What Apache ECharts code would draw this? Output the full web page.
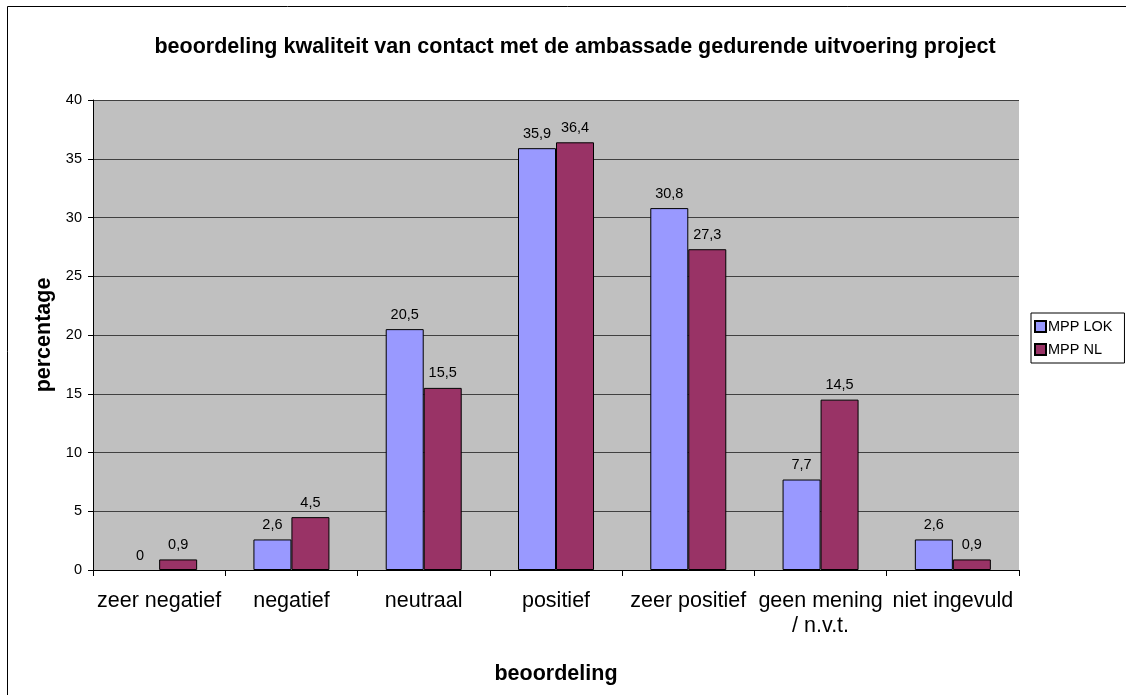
<!DOCTYPE html>
<html>
<head>
<meta charset="utf-8">
<script src="https://cdn.jsdelivr.net/npm/echarts@6/dist/echarts.min.js"></script>
<style>
  html, body { margin: 0; padding: 0; background: #fff; }
  #chart { width: 1126px; height: 695px; }
</style>
</head>
<body>
<div id="chart"></div>
<script>
// Ratings of contact with the embassy during project execution (percentages)
const categories = ['zeer negatief', 'negatief', 'neutraal', 'positief', 'zeer positief', 'geen mening\n/ n.v.t.', 'niet ingevuld'];
const mppLok = [0, 2.6, 20.5, 35.9, 30.8, 7.7, 2.6];
const mppNl = [0.9, 4.5, 15.5, 36.4, 27.3, 14.5, 0.9];
const yTicks = { min: 0, max: 40, interval: 5 };

const FONT = '"Liberation Sans", Arial, sans-serif';
const fmtComma = p => String(p.value).replace('.', ',');

// zero-height bars get no outline so only their label remains
const withZeroStyle = arr => arr.map(v => v === 0 ? { value: v, itemStyle: { borderWidth: 0 } } : v);

const labelStyle = {
  show: true,
  position: 'top',
  distance: 7,
  color: '#000',
  fontFamily: FONT,
  fontSize: 14.5,
  formatter: fmtComma
};

const chart = echarts.init(document.getElementById('chart'), null, { renderer: 'canvas' });
chart.setOption({
  animation: false,
  backgroundColor: '#fff',
  textStyle: { fontFamily: FONT },
  title: {
    text: 'beoordeling kwaliteit van contact met de ambassade gedurende uitvoering project',
    left: 570,
    textAlign: 'center',
    top: 31,
    textStyle: { fontFamily: FONT, fontSize: 21.5, fontWeight: 'bold', color: '#000' }
  },
  graphic: [{
    type: 'rect',
    shape: { x: 7.5, y: 6.5, width: 1300, height: 900 },
    style: { fill: 'none', stroke: '#000', lineWidth: 1 },
    silent: true,
    z: 100
  }],
  legend: {
    orient: 'vertical',
    left: 1031,
    top: 313,
    padding: [6, 12, 6, 3],
    itemGap: 8,
    itemWidth: 11,
    itemHeight: 11,
    borderColor: '#000',
    borderWidth: 1,
    backgroundColor: '#fff',
    icon: 'rect',
    textStyle: { fontFamily: FONT, fontSize: 14.5, color: '#000', padding: [0, 0, 0, -3] },
    data: ['MPP LOK', 'MPP NL']
  },
  grid: {
    left: 93,
    top: 100,
    right: 107,
    bottom: 125,
    show: true,
    backgroundColor: '#C0C0C0',
    borderWidth: 0
  },
  xAxis: {
    type: 'category',
    data: categories,
    name: 'beoordeling',
    nameLocation: 'middle',
    nameGap: 93,
    nameTextStyle: { fontFamily: FONT, fontSize: 21.5, fontWeight: 'bold', color: '#000' },
    axisLine: { lineStyle: { color: '#000', width: 1 } },
    axisTick: { show: true, length: 6, alignWithLabel: false, lineStyle: { color: '#000' } },
    axisLabel: {
      interval: 0,
      margin: 19,
      fontFamily: FONT,
      fontSize: 21.5,
      lineHeight: 25,
      color: '#000'
    },
    splitLine: { show: false }
  },
  yAxis: {
    type: 'value',
    min: yTicks.min,
    max: yTicks.max,
    interval: yTicks.interval,
    name: 'percentage',
    nameLocation: 'middle',
    nameGap: 37,
    nameTextStyle: { fontFamily: FONT, fontSize: 21.5, fontWeight: 'bold', color: '#000' },
    axisLine: { show: true, lineStyle: { color: '#000', width: 1 } },
    axisTick: { show: true, length: 5, lineStyle: { color: '#000' } },
    axisLabel: { margin: 11, fontFamily: FONT, fontSize: 14.5, color: '#000' },
    splitLine: { show: true, lineStyle: { color: '#404040', width: 1 } }
  },
  series: [
    {
      name: 'MPP LOK',
      type: 'bar',
      data: withZeroStyle(mppLok),
      barWidth: 38,
      barGap: '0%',
      itemStyle: { color: '#9999FF', borderColor: '#000', borderWidth: 1 },
      label: labelStyle
    },
    {
      name: 'MPP NL',
      type: 'bar',
      data: withZeroStyle(mppNl),
      barWidth: 38,
      barGap: '0%',
      itemStyle: { color: '#993366', borderColor: '#000', borderWidth: 1 },
      label: labelStyle
    }
  ]
});
</script>
</body>
</html>
